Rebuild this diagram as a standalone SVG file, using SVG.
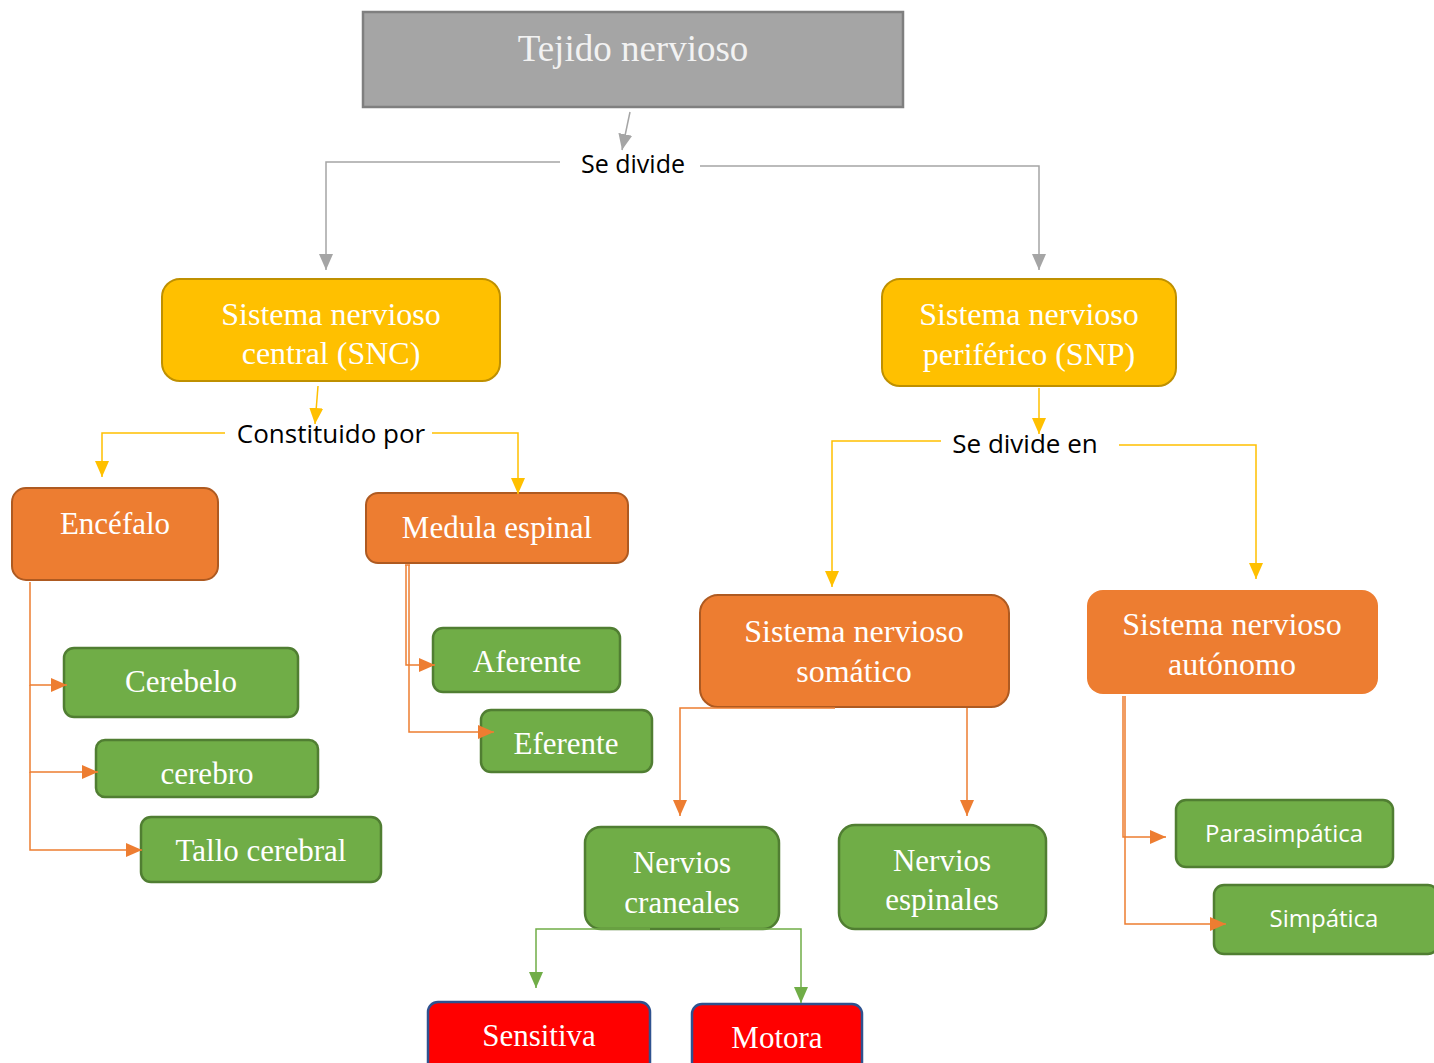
<svg xmlns="http://www.w3.org/2000/svg" width="1434" height="1063" viewBox="0 0 1434 1063">
<style>
.serif{font-family:"Liberation Serif","Times New Roman",serif;fill:#ffffff;text-anchor:middle}
.sans{font-family:"Open Sans","Liberation Sans",sans-serif;text-anchor:middle}
.gray{fill:#a5a5a5;stroke:#7f7f7f;stroke-width:2.5}
.yel{fill:#ffc000;stroke:#bf9000;stroke-width:2}
.org{fill:#ed7d31;stroke:#ae5a21;stroke-width:2}
.grn{fill:#70ad47;stroke:#507e32;stroke-width:2.5}
.red{fill:#ff0000;stroke:#2f528f;stroke-width:2.5}
.c{fill:none;stroke-width:1.5}
</style>
<defs>
<marker id="ag" markerUnits="userSpaceOnUse" markerWidth="16" markerHeight="14" refX="16" refY="7" orient="auto"><path d="M0,0 L16,7 L0,14 z" fill="#a5a5a5"/></marker>
<marker id="ay" markerUnits="userSpaceOnUse" markerWidth="16" markerHeight="14" refX="16" refY="7" orient="auto"><path d="M0,0 L16,7 L0,14 z" fill="#ffc000"/></marker>
<marker id="ao" markerUnits="userSpaceOnUse" markerWidth="16" markerHeight="14" refX="16" refY="7" orient="auto"><path d="M0,0 L16,7 L0,14 z" fill="#ed7d31"/></marker>
<marker id="an" markerUnits="userSpaceOnUse" markerWidth="16" markerHeight="14" refX="16" refY="7" orient="auto"><path d="M0,0 L16,7 L0,14 z" fill="#70ad47"/></marker>
</defs>
<rect width="1434" height="1063" fill="#ffffff"/>
<g id="tejido"><rect class="gray" x="363" y="12" width="540" height="95"/><text class="serif" x="633" y="61" font-size="37" style="fill:#f2f2f2">Tejido nervioso</text></g>
<g id="se-divide"><text class="sans" x="633" y="173" font-size="25" fill="#000">Se divide</text></g>
<g id="snc"><rect class="yel" x="162" y="279" width="338" height="102" rx="18"/><text class="serif" x="331" y="325" font-size="32">Sistema nervioso</text><text class="serif" x="331" y="364" font-size="32">central (SNC)</text></g>
<g id="snp"><rect class="yel" x="882" y="279" width="294" height="107" rx="18"/><text class="serif" x="1029" y="325" font-size="32">Sistema nervioso</text><text class="serif" x="1029" y="365" font-size="32">periférico (SNP)</text></g>
<g id="constituido"><text class="sans" x="331" y="443" font-size="26" fill="#000">Constituido por</text></g>
<g id="se-divide-en"><text class="sans" x="1025" y="453" font-size="26" fill="#000">Se divide en</text></g>
<g id="encefalo"><rect class="org" x="12" y="488" width="206" height="92" rx="14"/><text class="serif" x="115" y="534" font-size="31">Encéfalo</text></g>
<g id="medula"><rect class="org" x="366" y="493" width="262" height="70" rx="12"/><text class="serif" x="497" y="538" font-size="31">Medula espinal</text></g>
<g id="somatico"><rect class="org" x="700" y="595" width="309" height="112" rx="18"/><text class="serif" x="854" y="642" font-size="32">Sistema nervioso</text><text class="serif" x="854" y="682" font-size="32">somático</text></g>
<g id="autonomo"><rect x="1087" y="590" width="291" height="104" rx="16" fill="#ed7d31"/><text class="serif" x="1232" y="635" font-size="32">Sistema nervioso</text><text class="serif" x="1232" y="675" font-size="32">autónomo</text></g>
<g id="cerebelo"><rect class="grn" x="64" y="648" width="234" height="69" rx="10"/><text class="serif" x="181" y="692" font-size="31">Cerebelo</text></g>
<g id="cerebro"><rect class="grn" x="96" y="740" width="222" height="57" rx="9"/><text class="serif" x="207" y="784" font-size="31">cerebro</text></g>
<g id="tallo"><rect class="grn" x="141" y="817" width="240" height="65" rx="10"/><text class="serif" x="261" y="861" font-size="31">Tallo cerebral</text></g>
<g id="aferente"><rect class="grn" x="433" y="628" width="187" height="64" rx="10"/><text class="serif" x="527" y="672" font-size="31">Aferente</text></g>
<g id="eferente"><rect class="grn" x="481" y="710" width="171" height="62" rx="10"/><text class="serif" x="566" y="754" font-size="31">Eferente</text></g>
<g id="craneales"><rect class="grn" x="585" y="827" width="194" height="102" rx="16"/><text class="serif" x="682" y="873" font-size="31">Nervios</text><text class="serif" x="682" y="913" font-size="31">craneales</text></g>
<g id="espinales"><rect class="grn" x="839" y="825" width="207" height="104" rx="16"/><text class="serif" x="942" y="871" font-size="31">Nervios</text><text class="serif" x="942" y="910" font-size="31">espinales</text></g>
<g id="parasimpatica"><rect class="grn" x="1176" y="800" width="217" height="67" rx="10"/><text class="sans" x="1284" y="842" font-size="24" fill="#fff">Parasimpática</text></g>
<g id="simpatica"><rect class="grn" x="1214" y="885" width="224" height="69" rx="10"/><text class="sans" x="1324" y="927" font-size="24" fill="#fff">Simpática</text></g>
<g id="sensitiva"><rect class="red" x="428" y="1002" width="222" height="70" rx="10"/><text class="serif" x="539" y="1046" font-size="31">Sensitiva</text></g>
<g id="motora"><rect class="red" x="692" y="1004" width="170" height="68" rx="10"/><text class="serif" x="777" y="1048" font-size="31">Motora</text></g>
<g id="connectors">
<path class="c" stroke="#a5a5a5" d="M630,112 L622,150" marker-end="url(#ag)"/>
<path class="c" stroke="#a5a5a5" d="M560,162 H326 V270" marker-end="url(#ag)"/>
<path class="c" stroke="#a5a5a5" d="M700,166 H1039 V270" marker-end="url(#ag)"/>
<path class="c" stroke="#ffc000" d="M318,386 L315,424" marker-end="url(#ay)"/>
<path class="c" stroke="#ffc000" d="M225,433 H102 V477" marker-end="url(#ay)"/>
<path class="c" stroke="#ffc000" d="M432,433 H518 V494" marker-end="url(#ay)"/>
<path class="c" stroke="#ffc000" d="M1039,388 V434" marker-end="url(#ay)"/>
<path class="c" stroke="#ffc000" d="M941,441 H832 V587" marker-end="url(#ay)"/>
<path class="c" stroke="#ffc000" d="M1119,445 H1256 V579" marker-end="url(#ay)"/>
<path class="c" stroke="#ed7d31" d="M30,582 V685 H67" marker-end="url(#ao)"/>
<path class="c" stroke="#ed7d31" d="M30,685 V772 H98" marker-end="url(#ao)"/>
<path class="c" stroke="#ed7d31" d="M30,772 V850 H142" marker-end="url(#ao)"/>
<path class="c" stroke="#ed7d31" d="M405,565 H410 M406,565 V665 H435" marker-end="url(#ao)"/>
<path class="c" stroke="#ed7d31" d="M409,565 V732 H494" marker-end="url(#ao)"/>
<path class="c" stroke="#ed7d31" d="M835,708 H680 V816" marker-end="url(#ao)"/>
<path class="c" stroke="#ed7d31" d="M967,708 V816" marker-end="url(#ao)"/>
<path class="c" stroke="#ed7d31" stroke-width="2.5" d="M1123,696 V837 H1166" marker-end="url(#ao)"/>
<path class="c" stroke="#ed7d31" d="M1125,696 V924 H1226" marker-end="url(#ao)"/>
<path class="c" stroke="#70ad47" d="M650,929 H536 V988" marker-end="url(#an)"/>
<path class="c" stroke="#70ad47" d="M720,929 H801 V1003" marker-end="url(#an)"/>
</g>
</svg>
